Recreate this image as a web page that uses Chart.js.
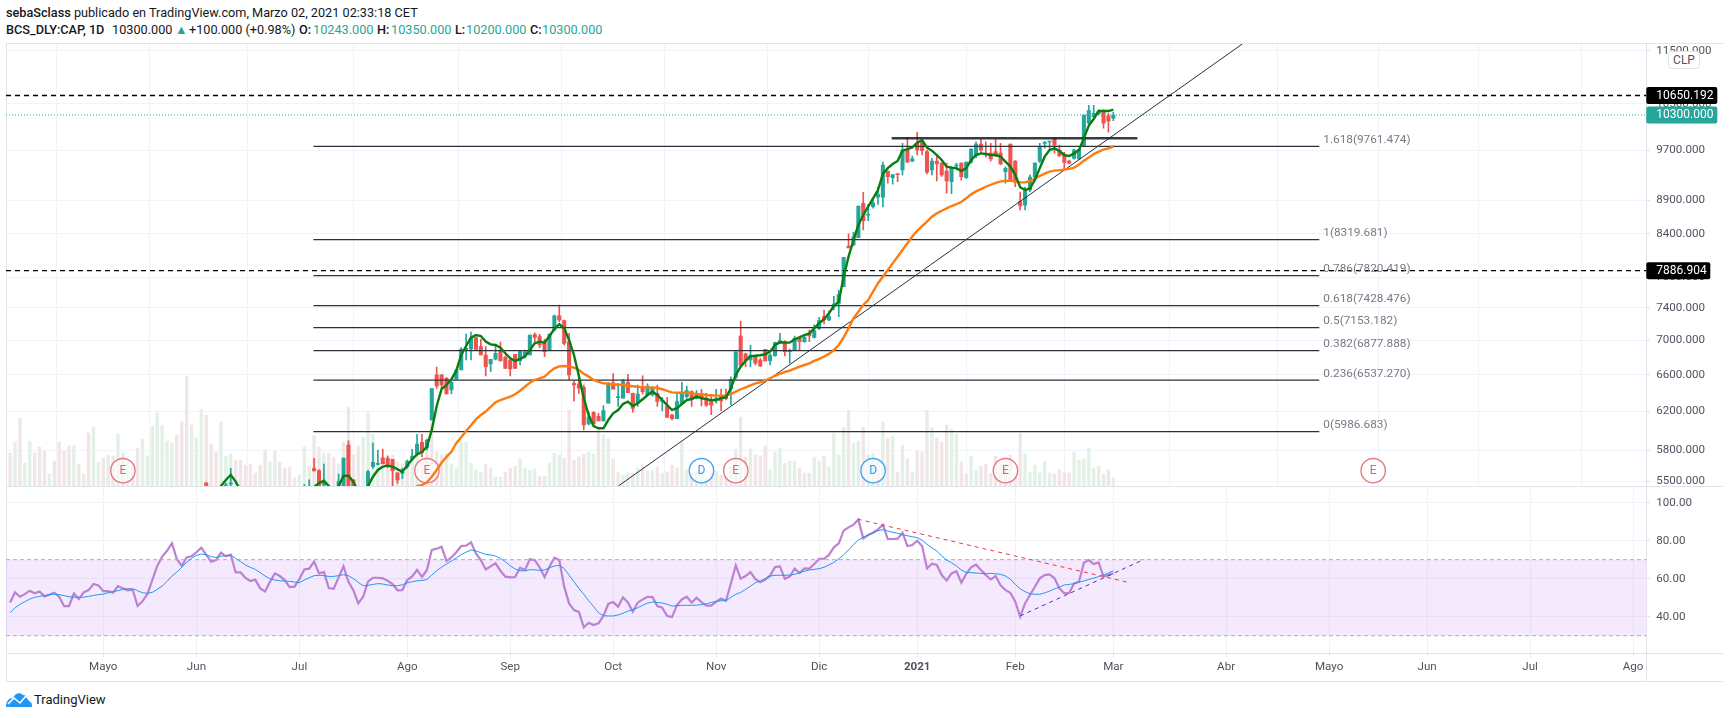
<!DOCTYPE html>
<html>
<head>
<meta charset="utf-8">
<title>BCS_DLY:CAP</title>
<script src="https://cdn.jsdelivr.net/npm/chart.js@4/dist/chart.umd.min.js"></script>
<style>
  html, body { margin: 0; background: #fff; }
  body { position: relative; width: 1729px; height: 718px; overflow: hidden; font-family: Roboto, sans-serif; color: #131722; }
  .pane { position: absolute; left: 0; width: 1729px; }
  .rule { position: absolute; background: #e0e3eb; }
  .head { position: absolute; font-size: 12.7px; line-height: 16px; white-space: nowrap; }
  .head b { font-weight: 500; }
  .teal { color: #26a69a; }
  #clp { position: absolute; left: 1668px; top: 51px; width: 30px; height: 16px; line-height: 16px; text-align: center; font-size: 12px; color: #50535e; background: #fff; border: 1px solid #e0e3eb; border-radius: 3px; }
  #logo { position: absolute; left: 6px; top: 692px; }
  #brand { position: absolute; left: 34px; top: 692px; font-size: 13px; line-height: 16px; }
</style>
</head>
<body>
<div class="head" style="left:6px;top:5px"><b>sebaSclass</b> publicado en TradingView.com, Marzo 02, 2021 02:33:18 CET</div>
<div class="head" style="left:6px;top:22px"><b>BCS_DLY:CAP, 1D</b></div>
<div class="head" style="left:112px;top:22px">10300.000</div>
<div class="head teal" style="left:175px;top:22px">&#9650;</div>
<div class="head" style="left:189px;top:22px">+100.000 (+0.98%)</div>
<div class="head" style="left:299px;top:22px"><b>O:</b></div><div class="head teal" style="left:313px;top:22px">10243.000</div>
<div class="head" style="left:377px;top:22px"><b>H:</b></div><div class="head teal" style="left:391px;top:22px">10350.000</div>
<div class="head" style="left:455px;top:22px"><b>L:</b></div><div class="head teal" style="left:466px;top:22px">10200.000</div>
<div class="head" style="left:530px;top:22px"><b>C:</b></div><div class="head teal" style="left:542px;top:22px">10300.000</div>

<div class="rule" style="left:6px;top:43px;width:1717px;height:1px"></div>
<div class="rule" style="left:6px;top:43px;width:1px;height:638px"></div>
<div class="rule" style="left:6px;top:486px;width:1717px;height:1px"></div>
<div class="rule" style="left:6px;top:653px;width:1717px;height:1px"></div>
<div class="rule" style="left:6px;top:681px;width:1717px;height:1px"></div>
<div class="rule" style="left:1646px;top:43px;width:1px;height:638px"></div>

<div class="pane" style="top:44px;height:442px"><canvas id="mainChart" width="1729" height="442"></canvas></div>
<div class="pane" style="top:487px;height:194px"><canvas id="rsiChart" width="1729" height="194"></canvas></div>
<div id="clp">CLP</div>

<svg id="logo" width="26" height="15" viewBox="0 0 26 15">
  <path d="M0 15 C0 9 3 6 7 6 C9 1 14 0 17 3 C21 3 23 6 23 8 C25 9 26 11 26 15 Z" fill="#2196f3"/>
  <polyline points="2,12 8,6 14,11 20,4 25,10" fill="none" stroke="#fff" stroke-width="1.6"/>
</svg>
<div id="brand">TradingView</div>

<script>
// one value per daily bar, index 0 = first bar at the left edge
const volumes = [
  33,44,68,23,45,33,39,35,12,25, 44,35,40,41,22,12,53,59,24,28,
  31,30,52,33,26,22,38,47,30,60, 73,61,45,43,51,64,110,61,48,77,
  71,42,34,64,30,32,26,26,21,22, 13,21,36,24,35,24,18,19,8,11,
  39,20,50,39,33,33,29,22,44,79, 31,40,49,73,52,21,18,31,31,24,
  22,26,26,30,27,40,67,34,31,33, 22,18,44,44,23,16,14,22,18,9,
  9,14,18,20,27,18,16,17,10,10, 23,33,31,28,76,26,29,32,34,32,
  59,51,47,27,14,11,13,13,18,21, 15,15,19,13,14,21,18,44,17,13,
  14,15,8,13,15,11,9,19,37,69, 29,37,31,30,40,16,34,38,23,25,
  25,18,13,13,29,25,30,19,53,31, 59,76,43,45,59,31,33,26,64,48,
  50,14,41,27,14,35,34,76,58,48, 44,61,57,52,24,12,30,16,20,22,
  13,30,22,22,31,13,53,32,14,21, 13,24,13,12,16,14,13,34,26,27,
  38,18,20,12,16,8
];
const volumeUp = [
  0,1,0,1,1,0,0,0,1,0, 0,0,0,1,0,1,0,1,1,0,
  1,0,1,0,1,0,0,1,1,1, 1,1,1,1,0,0,0,1,1,1,
  0,0,0,1,1,1,0,0,0,0, 0,0,0,1,1,0,0,0,1,1,
  1,1,0,0,1,0,0,1,1,0, 0,0,1,1,1,1,1,0,0,1,
  0,0,1,1,0,0,0,0,0,1, 1,1,1,1,1,1,1,0,1,1,
  1,0,0,0,1,1,1,1,0,0, 1,1,1,0,0,0,0,0,1,1,
  0,1,1,0,1,1,1,0,1,0, 1,1,0,1,0,0,0,1,1,0,
  1,1,0,0,1,0,0,0,1,0, 0,1,0,0,0,1,1,1,0,1,
  1,0,1,0,1,1,0,1,1,1, 1,0,1,1,0,0,1,0,1,0,
  1,0,1,0,1,0,0,0,1,0, 0,0,1,1,0,0,1,1,0,0,
  0,0,0,0,0,0,0,1,1,1, 1,1,1,0,0,0,0,1,1,1,
  1,1,1,0,0,1
];

// candles start at bar 40, earlier ones sit below the visible price range
const firstCandle = 40;
const opens = [
  5480,null,null,null,5440,5470,null,null,null,null,
  null,null,null,null,null,null,null,null,null,null,
  5420,5430,5621,5600,5462,null,null,5420,5420,5850,
  5510,null,null,5420,5637,5659,5724,5719,5709,5578,
  5572,5637,5711,5760,5877,5820,6106,6597,6597,6559,
  6429,6548,6653,6890,6897,7032,6924,6826,6722,6776,
  6877,6800,6768,6835,6760,6815,6826,7068,7044,6972,
  6877,7125,7301,7240,6984,6503,6496,6458,6065,6187,
  6146,6096,6284,6507,6345,6340,6510,6392,6284,6458,
  6374,6374,6392,6305,6255,6159,6120,6284,6356,6410,
  6340,6379,6319,6301,6319,6367,6374,6440,6570,7052,
  6839,6768,6807,6768,6893,6760,6818,6976,6984,6865,
  6885,7024,6984,7084,7036,7145,7290,7248,7420,7458,
  7675,8228,8242,8347,8852,8675,8802,8948,8948,9357,
  9252,9310,9373,9700,9518,9811,9840,9672,9373,9519,
  9484,9357,9187,9440,9484,9252,9500,9617,9800,9633,
  9647,9672,9650,9347,9800,9519,8880,8826,9057,9260,
  9518,9811,9834,9878,9700,9617,9519,9563,9551,9755,
  10158,10270,10320,10374,10285,10243
];
const highs = [
  5490,null,null,null,5480,5621,null,null,null,null,
  null,null,null,null,null,null,null,null,null,null,
  5468,5510,5718,5610,5663,null,null,5566,5721,5891,
  5510,null,null,5605,5870,5800,5810,5741,5709,5578,
  5621,5702,5807,5957,5957,5911,6443,6687,6597,6570,
  6521,6660,6913,7074,7100,7040,7012,6924,6776,6932,
  6980,6815,6776,6835,6877,6885,7064,7089,7072,7016,
  7076,7309,7437,7248,7084,6529,6597,6484,6190,6194,
  6176,6258,6510,6611,6503,6548,6603,6396,6484,6587,
  6496,6460,6484,6345,6349,6165,6392,6514,6473,6420,
  6421,6437,6392,6356,6437,6440,6440,6574,6862,7236,
  6850,6944,6826,6788,6893,6840,6980,7084,6996,6897,
  7052,7044,7060,7125,7187,7280,7373,7360,7547,7631,
  8070,8400,8423,8812,9021,8838,8903,9104,9500,9357,
  9305,9310,9811,9913,9600,10000,9878,9700,9563,9595,
  9490,9484,9430,9484,9490,9500,9725,9838,9878,9835,
  9811,9880,9811,9425,9800,9525,9026,9104,9295,9490,
  9811,9845,9846,9913,9783,9660,9535,9716,9711,10300,
  10472,10472,10393,10393,10330,10350
];
const lows = [
  5420,null,null,null,5420,5420,null,null,null,null,
  null,null,null,null,null,null,null,null,null,null,
  5400,5400,5595,5400,5400,null,null,5400,5420,5400,
  5420,null,null,5400,5620,5653,5663,5627,5420,5478,
  5522,5621,5711,5750,5733,5800,6106,6447,6452,6385,
  6385,6548,6653,6768,6768,6893,6826,6587,6634,6768,
  6757,6672,6587,6672,6710,6792,6826,6984,6909,6807,
  6877,7113,7228,6944,6540,6308,6392,6003,6054,6065,
  6096,6096,6284,6437,6249,6340,6400,6190,6249,6385,
  6374,6360,6249,6201,6133,6106,6120,6284,6340,6249,
  6330,6255,6249,6163,6284,6205,6319,6270,6555,6706,
  6691,6688,6710,6690,6757,6710,6810,6970,6815,6730,
  6885,6877,6975,6984,7025,7130,7200,7240,7373,7290,
  7675,8203,8230,8347,8457,8593,8780,8838,8800,9165,
  9150,9187,9295,9500,9510,9617,9617,9310,9295,9198,
  9270,9010,9000,9373,9210,9240,9485,9568,9650,9583,
  9518,9590,9460,9165,9195,9110,8752,8752,9030,9250,
  9490,9730,9700,9647,9590,9373,9470,9550,9540,9755,
  10150,10240,10300,10070,10000,10200
];
const closes = [
  5440,null,null,null,5465,5482,null,null,null,null,
  null,null,null,null,null,null,null,null,null,null,
  5440,5450,5595,5420,5494,null,null,5494,5721,5420,
  5420,null,null,5589,5680,5669,5663,5653,5598,5510,
  5582,5689,5741,5860,5773,5901,6443,6473,6484,6385,
  6514,6653,6897,6905,7028,6893,6826,6691,6776,6846,
  6757,6672,6664,6672,6865,6862,7064,7036,6944,6865,
  7076,7301,7248,6964,6597,6484,6448,6054,6140,6065,
  6096,6205,6496,6437,6356,6521,6400,6230,6385,6410,
  6473,6448,6305,6312,6133,6120,6301,6392,6421,6330,
  6385,6340,6263,6263,6340,6309,6334,6548,6862,6706,
  6757,6815,6730,6699,6757,6826,6972,6996,6865,6877,
  7024,6984,7036,7052,7117,7240,7248,7290,7449,7574,
  8070,8203,8356,8812,8593,8684,8862,8990,9453,9268,
  9295,9300,9700,9500,9556,9700,9689,9340,9519,9470,
  9295,9198,9403,9453,9268,9500,9716,9800,9700,9617,
  9551,9617,9470,9400,9214,9214,8812,9047,9260,9484,
  9755,9830,9845,9783,9608,9494,9484,9700,9711,10300,
  10380,10330,10360,10155,10190,10300
];

// moving averages, first value belongs to bar firstFast / firstSlow
const firstFast = 42;
const fastMa = [
  5400,5453,5510,5558,5494,5410,null,null,
  null,null,null,null,null,null,null,null,null,null,
  null,null,5445,5480,5503,5453,5400,5455,5548,5551,
  5494,5400,5400,5453,5541,5605,5637,5647,5637,5612,
  5589,5647,5709,5757,5783,5833,6003,6255,6440,6484,
  6548,6645,6826,6932,7032,7064,7052,6984,6952,6944,
  6912,6846,6788,6757,6780,6807,6885,6964,6984,6972,
  7052,7137,7196,7145,7004,6826,6585,6338,6159,6044,
  6020,6020,6106,6176,6212,6276,6301,6255,6284,6327,
  6374,6410,6374,6319,6265,6212,6230,6276,6319,6330,
  6356,6338,6330,6316,6319,6338,6349,6448,6597,6691,
  6757,6815,6818,6823,6835,6865,6944,6976,6972,6972,
  7012,7036,7064,7084,7145,7208,7258,7332,7423,7480,
  7807,8079,8313,8530,8678,8802,8929,9057,9310,9403,
  9470,9519,9689,9716,9744,9823,9868,9738,9689,9617,
  9535,9428,9412,9403,9357,9403,9535,9617,9644,9633,
  9617,9617,9590,9508,9428,9295,9100,9057,9082,9214,
  9403,9590,9700,9727,9684,9617,9600,9644,9700,9900,
  10115,10230,10370,10370,10370,10394
];
const firstSlow = 82;
const slowMa = [
  5400,5453,5462,5487,5541,5605,5676,5733,5783,5868,
  5928,5993,6052,6113,6159,6195,6244,6294,6319,6338,
  6356,6382,6421,6465,6510,6540,6559,6578,6628,6672,
  6695,6699,6691,6680,6653,6611,6578,6540,6518,6503,
  6499,6492,6488,6484,6476,6470,6465,6458,6458,6458,
  6451,6437,6418,6403,6399,6399,6399,6392,6385,6382,
  6374,6371,6367,6367,6367,6385,6410,6437,6458,6480,
  6503,6514,6532,6559,6587,6610,6630,6645,6668,6691,
  6710,6730,6757,6780,6807,6839,6885,6944,7036,7145,
  7269,7352,7437,7501,7609,7720,7807,7897,7987,8079,
  8172,8267,8363,8447,8515,8579,8652,8702,8741,8777,
  8812,8842,8872,8929,8990,9036,9072,9108,9139,9170,
  9192,9198,9203,9187,9177,9177,9198,9234,9277,9315,
  9347,9363,9370,9380,9391,9412,9460,9524,9578,9633,
  9672,9705,9727,9757
];

const rsi = [
  47.5,52.8,50.5,51.9,53.7,52.3,53.3,50.7,51.6,52.6,
  50.5,45.6,45.6,52.3,49.3,52.8,54,57.2,56.5,53.5,
  53.5,52.6,56.1,54.9,53.9,54.2,45.6,48.1,51.9,59.3,
  66.7,71.6,74.7,78.6,70.4,66.7,71.2,71.8,73.9,76.3,
  72.6,69,69.8,73.7,71.8,72.6,63.3,63.3,60.4,58.8,
  59.5,54.9,53.3,58.4,62.8,61.4,59.3,55.6,55.8,59.8,
  64.9,65.3,69,62.8,63.5,55.1,54.7,60.7,66.5,58.4,
  54,47,50.5,58.4,60.5,60.5,60.2,58.9,57.2,53.9,
  54,59.3,61.2,64.6,60.9,64.6,75.1,75.8,76.8,69.3,
  71.2,73.9,77.2,77.4,79.1,73.3,69.8,64.9,66.5,68.1,
  64.2,61.1,60.7,60.9,65.8,64.6,70.2,69.8,66,60.9,
  66.3,71.1,69.8,55.8,47,43.5,42.5,34.4,36.8,35.6,
  36.5,40.4,46.7,47.7,45.3,50.2,47.5,42.6,47.4,49.1,
  50.5,50.3,45.6,44.7,40.4,39.8,46.1,49.1,50.5,47.4,
  50,47.7,45.8,45.8,47.9,49.6,48.4,57.5,67,60,
  61.4,63.5,59.8,58.1,59.6,61.6,66.1,66.5,60,61.1,
  65.3,63,65.4,65.3,67.7,70.4,70.5,72.5,76.5,78.6,
  85.3,87,88.4,91.2,81.2,83,84.2,86,88.4,80.9,
  80.9,81.1,84.2,77.2,77.7,80,77.2,65.4,67.9,67.2,
  61.9,59.1,62.8,63.9,57.9,62.5,66,67.4,64.6,61.9,
  59.6,61.4,56.5,54,52.6,47.9,40,47,51.4,55.8,
  60.2,61.9,62.3,60.2,54.9,52.3,52.5,57.5,58.4,68.4,
  69.8,67.7,68.6,61.1,61.9,62.8
];
const rsiMa = [
  42.1,44.7,46.5,47.9,49.3,50.2,50.7,51.1,51.6,51.9,
  51.6,51.1,50.5,50.3,50.2,50.3,50.7,51.2,51.6,51.9,
  52.6,53.2,53.7,54.4,54.7,54.7,53.7,52.6,52.3,52.8,
  54.4,56.1,58.6,61.4,63.5,66,68.6,70.7,72.3,73,
  72.6,71.6,71.2,71.8,72.1,72.3,70.7,69,67.2,66,
  64.9,63.2,61.4,60,59.3,58.9,58.8,58.6,58.2,57.9,
  59.3,60.5,61.6,61.8,61.6,61.2,61.2,61.6,62.1,61.6,
  60,58.1,56.3,56.5,57,57.4,57.2,56.7,56.3,56.3,
  56.8,57.9,58.4,58.9,59.1,59.6,61.9,64.2,66.1,67.7,
  69.3,70.9,72.6,74,75.1,74.6,73.7,72.8,72.5,71.9,
  70.7,69,66.8,65.1,64.2,64.2,64.7,64.7,64.4,64.6,
  65.8,66.7,67,65.4,61.9,58.4,54.9,51.8,48.4,45.3,
  42.1,40.5,40.4,40.4,40.9,41.8,43,43.7,44.7,46,
  47.2,47.7,47.5,47.2,46.5,45.6,45.8,46,46,46,
  46.1,46.3,46.8,47.5,48.1,48.4,48.4,50.2,51.8,52.8,
  54.4,56.1,57.9,58.8,60,61.4,61.8,61.8,61.8,61.9,
  62.3,63.2,63.9,64.6,64.9,65.3,66,67.2,68.6,70.4,
  72.6,75.1,78,80.3,81.8,83,84.2,85.3,85.8,85.1,
  84.4,83.9,83.2,82.6,82.1,81.6,80.3,78.1,76.3,74.6,
  71.9,69.8,68.4,66.7,64.6,63.3,63.2,63,62.8,62.6,
  62.8,62.6,62.3,61.4,59.8,57,54.7,53.2,52.1,51.8,
  51.8,52.5,53.5,54.6,55.6,56.7,57,57.4,58.1,58.8,
  59.6,60.3,61.1,61.9,63,64.2
];

const fibRatios = ['1.618', '1', '0.786', '0.618', '0.5', '0.382', '0.236', '0'];
const fibLevels = [9761.474, 8319.681, 7820.419, 7428.476, 7153.182, 6877.888, 6537.27, 5986.683];
const fibFrom = 61.86, fibTo = 267;

const priceTicks = [5500, 5800, 6200, 6600, 7000, 7400, 7800, 8400, 8900, 9700, 10500, 11500];
const rsiTicks = [40, 60, 80, 100];
const monthTicks = [19, 38, 59, 81, 102, 123, 144, 165, 185, 205, 225, 248, 269, 289, 310, 331];
const monthLabels = ['Mayo', 'Jun', 'Jul', 'Ago', 'Sep', 'Oct', 'Nov', 'Dic', '2021', 'Feb', 'Mar', 'Abr', 'Mayo', 'Jun', 'Jul', 'Ago'];

const lastPrice = 10300, upperLevel = 10650.192, lowerLevel = 7886.904;
const eventBars = [23, 85, 141, 148, 176, 203, 278];
const eventKinds = ['E', 'E', 'D', 'E', 'D', 'E', 'E'];
const eventLevel = 15.3;

const xMin = -0.84, xMax = 333.7;
const UP = '#26a69a', DOWN = '#ef5350', GRID = '#f0f3fa', AXIS = '#e0e3eb', TEXT = '#50535e';
const AXIS_FONT = { family: 'Roboto', size: 11.6 };

const line = (data, color, width, extra) => Object.assign({
  type: 'line', data: data, borderColor: color, borderWidth: width,
  pointRadius: 0, fill: false, clip: 0, yAxisID: 'y', order: 1
}, extra);
const flat = (value, color, width, dash) =>
  line([{ x: xMin, y: value }, { x: xMax, y: value }], color, width, { borderDash: dash });

// candles as floating bars: thin one for the wick, wide one for the body
const candleIdx = opens.map((o, k) => k).filter(k => opens[k] !== null);
const candleColor = candleIdx.map(k => closes[k] >= opens[k] ? UP : DOWN);
const wicks = candleIdx.map(k => ({ x: firstCandle + k, y: [lows[k], highs[k]] }));
const bodies = candleIdx.map(k => ({ x: firstCandle + k, y: [opens[k], closes[k]] }));

// pane bounds are fixed, so axis labels must not push the plot area inwards
const setAxisSize = (width, height) => s => {
  if (width !== null) s.width = width;
  if (height !== null) s.height = height;
  s.paddingTop = s.paddingBottom = s.paddingLeft = s.paddingRight = 0;
};
const setTicks = values => s => { s.ticks = values.map(v => ({ value: v })); };

const mainLabels = {
  id: 'mainLabels',
  afterDraw(chart) {
    const { ctx, scales } = chart;
    const py = v => scales.y.getPixelForValue(v);
    ctx.save();
    // fib captions
    ctx.font = '11.8px Roboto';
    ctx.fillStyle = '#787b86';
    ctx.textBaseline = 'middle';
    fibLevels.forEach((v, k) => {
      ctx.fillText(fibRatios[k] + '(' + v.toFixed(3) + ')', scales.x.getPixelForValue(fibTo) + 4, py(v) - 6.5);
    });
    // price tags on the axis
    ctx.font = '12px Roboto';
    const tags = [[upperLevel, '#000', 71], [lowerLevel, '#000', 64], [lastPrice, UP, 71]];
    tags.forEach(([v, color, w]) => {
      const y = py(v), x = scales.y.left;
      ctx.fillStyle = color;
      ctx.beginPath();
      ctx.roundRect(x, y - 8.5, w, 17, 2);
      ctx.fill();
      ctx.fillStyle = '#fff';
      ctx.fillText(v.toFixed(3), x + 10, y + 0.5);
    });
    // event letters
    ctx.textAlign = 'center';
    const y = scales.y2.getPixelForValue(eventLevel);
    eventBars.forEach((b, k) => {
      ctx.fillStyle = eventKinds[k] === 'E' ? '#e5606f' : '#2f9bef';
      ctx.fillText(eventKinds[k], scales.x.getPixelForValue(b), y);
    });
    ctx.restore();
  }
};

new Chart(document.getElementById('mainChart'), {
  type: 'bar',
  plugins: [mainLabels],
  data: {
    datasets: [
      flat(upperLevel, '#000', 1.3, [5, 4]),
      flat(lowerLevel, '#000', 1.3, [5, 4]),
      flat(lastPrice, UP, 1, [1, 2]),
      line([{ x: 179.8, y: 9898 }, { x: 229.9, y: 9898 }], 'rgba(19,23,34,0.85)', 2.6),
      line([{ x: 124.05, y: 5453 }, { x: 251.3, y: 11633 }], '#2a2e39', 1),
      ...fibLevels.map(v => line([{ x: fibFrom, y: v }, { x: fibTo, y: v }], '#2f3138', 1.3)),
      line(fastMa.map((v, k) => ({ x: firstFast + k, y: v })), '#0a7d0f', 2.4, { order: 0 }),
      line(slowMa.map((v, k) => ({ x: firstSlow + k, y: v })), '#ff7b0f', 2.4, { order: 0 }),
      { type: 'bar', data: bodies, backgroundColor: candleColor, barThickness: 3.4, minBarLength: 1, grouped: false, clip: 0, yAxisID: 'y', order: 2 },
      { type: 'bar', data: wicks, backgroundColor: candleColor, barThickness: 1, grouped: false, clip: 0, yAxisID: 'y', order: 3 },
      {
        type: 'line', showLine: false, yAxisID: 'y2', clip: 0, order: 4,
        data: eventBars.map(b => ({ x: b, y: eventLevel })),
        pointRadius: 12.2, pointBorderWidth: 1.4,
        pointBackgroundColor: 'rgba(255,255,255,0.55)',
        pointBorderColor: eventKinds.map(k => k === 'E' ? 'rgba(229,96,111,0.85)' : '#42a5f5')
      },
      {
        type: 'bar', yAxisID: 'y2', order: 5, barThickness: 2.7, grouped: false, clip: 0,
        data: volumes.map((v, i) => ({ x: i, y: v })),
        backgroundColor: volumeUp.map(u => u ? '#e2f0e5' : '#f0e5e7')
      }
    ]
  },
  options: {
    responsive: false,
    animation: false,
    events: [],
    layout: { autoPadding: false, padding: { left: 6, top: 0, right: 0, bottom: 0 } },
    plugins: { legend: { display: false }, tooltip: { enabled: false } },
    scales: {
      x: {
        type: 'linear', min: xMin, max: xMax, offset: false,
        afterBuildTicks: setTicks(monthTicks),
        afterFit: setAxisSize(null, 0),
        ticks: { display: false },
        border: { display: false },
        grid: { color: GRID, drawTicks: false }
      },
      y: {
        type: 'logarithmic', position: 'right', min: 5453.2, max: 11632.8,
        afterBuildTicks: setTicks(priceTicks),
        afterFit: setAxisSize(82.7, null),
        ticks: { callback: v => v.toFixed(3), font: AXIS_FONT, color: TEXT, padding: 6, autoSkip: false },
        border: { display: false },
        grid: { color: GRID, tickLength: 4, tickColor: AXIS }
      },
      y2: { type: 'linear', display: false, min: 0, max: 442 }
    }
  }
});

new Chart(document.getElementById('rsiChart'), {
  type: 'line',
  data: {
    datasets: [
      line([{ x: 172.9, y: 91.3 }, { x: 228, y: 58.1 }], '#f23645', 1, { borderDash: [4, 4], order: 0 }),
      line([{ x: 206, y: 40.4 }, { x: 231.3, y: 70.2 }], '#5e2bb8', 1, { borderDash: [4, 4], order: 0 }),
      line(rsiMa.map((v, i) => ({ x: i, y: v })), '#2196f3', 1, { order: 1 }),
      line(rsi.map((v, i) => ({ x: i, y: v })), '#bc82d2', 2.2, { order: 2 }),
      flat(70, '#b2a6bc', 1, [4, 3]),
      flat(30, '#b2a6bc', 1, [4, 3]),
      line([{ x: xMin, y: 70 }, { x: xMax, y: 70 }], 'rgba(0,0,0,0)', 0, {
        fill: { target: { value: 30 } }, backgroundColor: 'rgba(159,51,240,0.105)', order: 5
      })
    ]
  },
  options: {
    responsive: false,
    animation: false,
    events: [],
    layout: { autoPadding: false, padding: { left: 6, top: 0, right: 0, bottom: 0 } },
    plugins: { legend: { display: false }, tooltip: { enabled: false } },
    scales: {
      x: {
        type: 'linear', min: xMin, max: xMax,
        afterBuildTicks: setTicks(monthTicks),
        afterFit: setAxisSize(null, 28),
        ticks: {
          callback: v => monthLabels[monthTicks.indexOf(v)],
          autoSkip: false, maxRotation: 0, padding: 3, color: TEXT,
          font: c => ({ family: 'Roboto', size: 11.6, weight: c.tick && c.tick.label === '2021' ? '700' : '400' })
        },
        border: { display: false },
        grid: { color: GRID, tickLength: 4, tickColor: AXIS }
      },
      y: {
        type: 'linear', position: 'right', min: 20.9, max: 108.26,
        afterBuildTicks: setTicks(rsiTicks),
        afterFit: setAxisSize(82.7, null),
        ticks: { callback: v => v.toFixed(2), font: AXIS_FONT, color: TEXT, padding: 6, autoSkip: false },
        border: { display: false },
        grid: { color: GRID, tickLength: 4, tickColor: AXIS }
      }
    }
  }
});
</script>
</body>
</html>
